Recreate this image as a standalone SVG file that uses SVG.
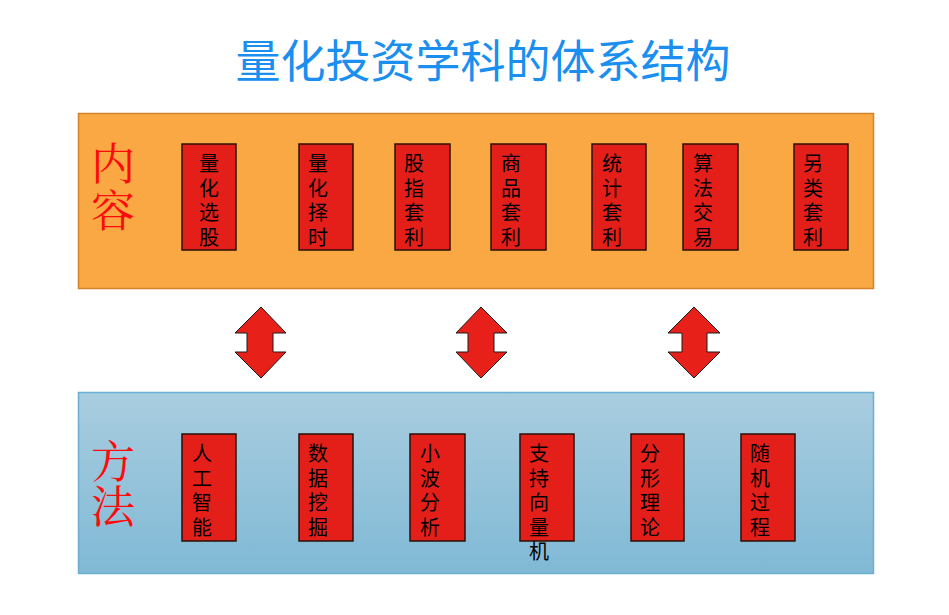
<svg xmlns="http://www.w3.org/2000/svg" width="949" height="615" viewBox="0 0 949 615">
<defs>
<linearGradient id="blueGrad" x1="0" y1="0" x2="0" y2="1">
<stop offset="0" stop-color="#A9CDE0"/>
<stop offset="1" stop-color="#80B9D5"/>
</linearGradient>
<style>
.title{font-family:"Noto Sans CJK SC","Noto Sans",sans-serif;font-size:45px;fill:#1A8FF0;text-anchor:middle}
.big{font-family:"Noto Serif CJK SC","Noto Sans CJK SC",serif;font-size:44px;fill:#FF0A0A;text-anchor:middle}
.box{fill:#E41F1A;stroke:#2A1208;stroke-width:1.5}
.lbl{font-family:"Noto Sans CJK SC","Noto Sans",sans-serif;font-size:20px;fill:#000;text-anchor:middle}
.arrow{fill:#E8201A;stroke:#1A1A1A;stroke-width:1}
</style>
</defs>
<rect width="949" height="615" fill="#FFFFFF"/>
<text class="title" x="483" y="78">量化投资学科的体系结构</text>

<g id="panel-content">
<rect x="78.5" y="113.5" width="795" height="175" fill="#FAA843" stroke="#D4822C" stroke-width="1.5"/>
<text class="big" x="113" y="180">内</text>
<text class="big" x="113" y="227">容</text>
</g>

<g id="panel-method">
<rect x="78.5" y="392.5" width="795" height="181" fill="url(#blueGrad)" stroke="#6AAFD0" stroke-width="1.5"/>
<text class="big" x="113" y="478">方</text>
<text class="big" x="113" y="523">法</text>
</g>

<g id="n-lhxg"><rect class="box" x="182" y="144" width="54" height="106"/>
<text class="lbl" x="209"><tspan x="209" y="171">量</tspan><tspan x="209" y="195.5">化</tspan><tspan x="209" y="220">选</tspan><tspan x="209" y="244.5">股</tspan></text></g>
<g id="n-lhzs"><rect class="box" x="299" y="144" width="54" height="106"/>
<text class="lbl"><tspan x="318" y="171">量</tspan><tspan x="318" y="195.5">化</tspan><tspan x="318" y="220">择</tspan><tspan x="318" y="244.5">时</tspan></text></g>
<g id="n-gztl"><rect class="box" x="395" y="144" width="55" height="106"/>
<text class="lbl"><tspan x="414" y="171">股</tspan><tspan x="414" y="195.5">指</tspan><tspan x="414" y="220">套</tspan><tspan x="414" y="244.5">利</tspan></text></g>
<g id="n-sptl"><rect class="box" x="491" y="144" width="55" height="106"/>
<text class="lbl"><tspan x="511" y="171">商</tspan><tspan x="511" y="195.5">品</tspan><tspan x="511" y="220">套</tspan><tspan x="511" y="244.5">利</tspan></text></g>
<g id="n-tjtl"><rect class="box" x="592" y="144" width="54" height="106"/>
<text class="lbl"><tspan x="612" y="171">统</tspan><tspan x="612" y="195.5">计</tspan><tspan x="612" y="220">套</tspan><tspan x="612" y="244.5">利</tspan></text></g>
<g id="n-sfjy"><rect class="box" x="683" y="144" width="55" height="106"/>
<text class="lbl"><tspan x="703" y="171">算</tspan><tspan x="703" y="195.5">法</tspan><tspan x="703" y="220">交</tspan><tspan x="703" y="244.5">易</tspan></text></g>
<g id="n-lltl"><rect class="box" x="794" y="144" width="54" height="106"/>
<text class="lbl"><tspan x="813" y="171">另</tspan><tspan x="813" y="195.5">类</tspan><tspan x="813" y="220">套</tspan><tspan x="813" y="244.5">利</tspan></text></g>

<g id="n-rgzn"><rect class="box" x="182" y="434" width="54" height="107"/>
<text class="lbl"><tspan x="202" y="461">人</tspan><tspan x="202" y="485.5">工</tspan><tspan x="202" y="510">智</tspan><tspan x="202" y="534.5">能</tspan></text></g>
<g id="n-sjwj"><rect class="box" x="299" y="434" width="54" height="107"/>
<text class="lbl"><tspan x="318" y="461">数</tspan><tspan x="318" y="485.5">据</tspan><tspan x="318" y="510">挖</tspan><tspan x="318" y="534.5">掘</tspan></text></g>
<g id="n-xbfx"><rect class="box" x="410" y="434" width="55" height="107"/>
<text class="lbl"><tspan x="430" y="461">小</tspan><tspan x="430" y="485.5">波</tspan><tspan x="430" y="510">分</tspan><tspan x="430" y="534.5">析</tspan></text></g>
<g id="n-zcxlj"><rect class="box" x="520" y="434" width="54" height="107"/>
<text class="lbl"><tspan x="539" y="461">支</tspan><tspan x="539" y="485.5">持</tspan><tspan x="539" y="510">向</tspan><tspan x="539" y="534.5">量</tspan><tspan x="539" y="559">机</tspan></text></g>
<g id="n-fxll"><rect class="box" x="631" y="434" width="53" height="107"/>
<text class="lbl"><tspan x="650" y="461">分</tspan><tspan x="650" y="485.5">形</tspan><tspan x="650" y="510">理</tspan><tspan x="650" y="534.5">论</tspan></text></g>
<g id="n-sjgc"><rect class="box" x="741" y="434" width="54" height="107"/>
<text class="lbl"><tspan x="760" y="461">随</tspan><tspan x="760" y="485.5">机</tspan><tspan x="760" y="510">过</tspan><tspan x="760" y="534.5">程</tspan></text></g>

<g id="connectors">
<polygon class="arrow" points="261,307 286,333 273,333 273,352 286,352 261,378 235,352 247,352 247,333 235,333"/>
<polygon class="arrow" points="481,307 507,333 494,333 494,352 507,352 481,378 456,352 468,352 468,333 456,333"/>
<polygon class="arrow" points="694,307 720,333 707,333 707,352 720,352 694,378 668,352 682,352 682,333 668,333"/>
</g>
</svg>
